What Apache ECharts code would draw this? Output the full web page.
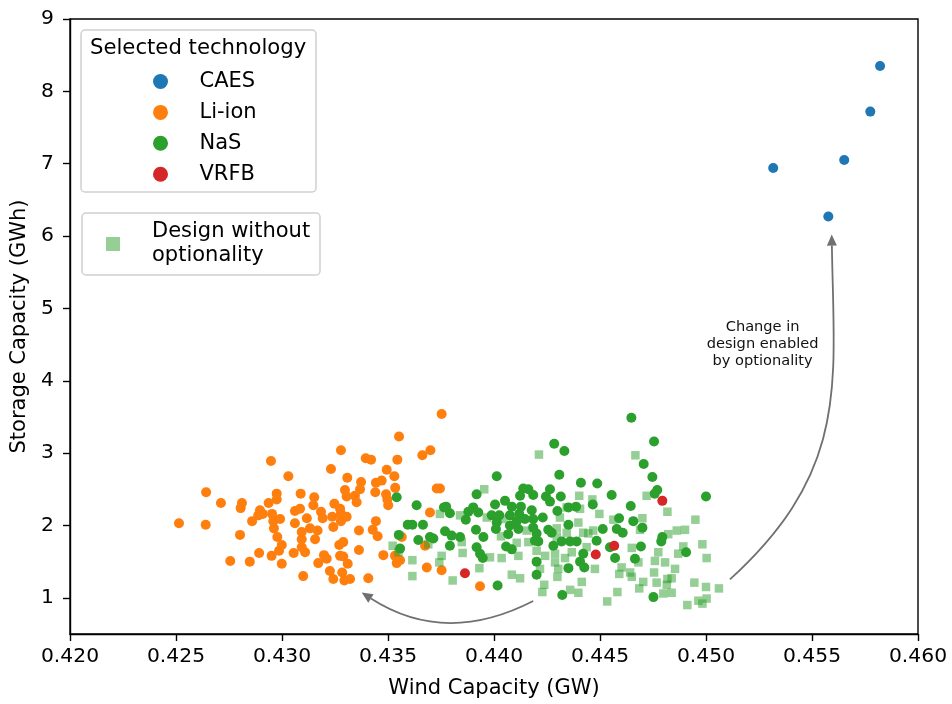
<!DOCTYPE html>
<html>
<head>
<meta charset="utf-8">
<script src="https://cdn.jsdelivr.net/npm/echarts@6/dist/echarts.min.js"></script>
<style>html,body{margin:0;padding:0;background:#fff}#c{width:952px;height:704px}</style>
</head>
<body>
<div id="c"></div>
<script>
const xTicks = [0.420,0.425,0.430,0.435,0.440,0.445,0.450,0.455,0.460];
const yTicks = [1,2,3,4,5,6,7,8,9];

const caes = [[0.45821,8.35],[0.45775,7.72],[0.45652,7.05],[0.45317,6.94],[0.45577,6.27]];

const liion = [
[0.42948,2.89],[0.43030,2.68],[0.42642,2.46],[0.42975,2.44],[0.43088,2.44],[0.42712,2.31],[0.42811,2.31],[0.42937,2.31],[0.42975,2.36],[0.42805,2.24],[0.42896,2.21],[0.43061,2.20],[0.43085,2.23],[0.42909,2.16],[0.42888,2.14],[0.42953,2.16],[0.42514,2.03],[0.42640,2.01],[0.42859,2.06],[0.42959,2.06],[0.42991,2.09],[0.43061,2.03],[0.42962,1.96],[0.42802,1.87],[0.42978,1.84],[0.43093,1.91],[0.43093,1.81],[0.42999,1.73],[0.42986,1.65],[0.43093,1.70],[0.42892,1.62],[0.43055,1.62],[0.42951,1.58],[0.42756,1.51],[0.42848,1.50],[0.42999,1.47],[0.43100,1.30],
[0.43753,3.54],[0.43552,3.23],[0.43278,3.04],[0.43662,2.97],[0.43700,3.04],[0.43395,2.93],[0.43420,2.91],[0.43544,2.91],[0.43231,2.78],[0.43494,2.77],[0.43530,2.68],[0.43308,2.66],[0.43373,2.60],[0.43443,2.59],[0.43470,2.62],[0.43534,2.52],[0.43297,2.49],[0.43368,2.50],[0.43440,2.46],[0.43491,2.43],[0.43730,2.51],[0.43745,2.51],[0.43152,2.39],[0.43305,2.40],[0.43344,2.41],[0.43352,2.32],[0.43148,2.28],[0.43247,2.30],[0.43497,2.36],[0.43501,2.28],[0.43184,2.19],[0.43274,2.23],[0.43278,2.16],[0.43305,2.12],[0.43117,2.10],[0.43192,2.10],[0.43237,2.12],[0.43278,2.06],[0.43443,2.06],[0.43698,2.18],[0.43132,1.96],[0.43168,1.93],[0.43242,1.98],[0.43363,1.93],[0.43428,1.94],[0.43451,1.85],[0.43156,1.81],[0.43565,1.84],[0.43675,1.72],[0.43270,1.73],[0.43289,1.77],[0.43109,1.63],[0.43198,1.59],[0.43211,1.54],[0.43274,1.58],[0.43289,1.57],[0.43363,1.66],[0.43478,1.59],[0.43533,1.58],[0.43557,1.52],[0.43541,1.48],[0.43171,1.48],[0.43310,1.47],[0.43683,1.42],[0.43226,1.37],[0.43284,1.35],[0.43242,1.26],[0.43294,1.24],[0.43321,1.26],[0.43407,1.27],[0.43753,1.38],[0.43934,1.16]
];

const nas = [
[0.43541,2.39],[0.43635,2.28],[0.43764,2.25],[0.43593,2.01],[0.43615,2.01],[0.43665,2.01],[0.43551,1.87],[0.43557,1.68],[0.43643,1.80],[0.43698,1.84],[0.43714,1.82],[0.43769,1.92],
[0.44284,3.13],[0.44332,3.03],[0.44013,2.68],[0.44308,2.70],[0.44410,2.59],[0.44138,2.51],[0.44162,2.50],[0.43918,2.43],[0.44123,2.41],[0.44185,2.42],[0.44264,2.50],[0.44245,2.40],[0.44315,2.40],[0.43774,2.26],[0.43792,2.17],[0.43902,2.25],[0.43879,2.19],[0.43926,2.18],[0.44005,2.29],[0.44052,2.34],[0.44084,2.26],[0.44127,2.26],[0.44264,2.33],[0.44299,2.20],[0.44351,2.25],[0.44387,2.26],[0.43989,2.14],[0.44025,2.14],[0.44075,2.14],[0.44119,2.16],[0.44178,2.21],[0.43867,2.08],[0.44013,2.04],[0.44107,2.06],[0.44146,2.09],[0.44185,2.09],[0.44230,2.11],[0.44351,2.01],[0.43800,1.86],[0.43915,1.94],[0.44009,1.95],[0.44075,2.00],[0.44115,1.95],[0.44185,1.97],[0.44256,1.94],[0.44272,1.90],[0.43840,1.84],[0.43950,1.84],[0.44067,1.88],[0.44201,1.89],[0.44193,1.79],[0.44209,1.78],[0.44319,1.78],[0.44359,1.78],[0.44390,1.78],[0.43792,1.72],[0.44057,1.71],[0.44084,1.67],[0.44280,1.72],[0.43918,1.70],[0.43934,1.61],[0.43947,1.55],[0.44201,1.50],[0.44351,1.41],[0.44406,1.50],[0.44201,1.32],[0.44017,1.17],[0.44322,1.04],
[0.44648,3.49],[0.44755,3.16],[0.44706,2.85],[0.44747,2.67],[0.44770,2.49],[0.44758,2.44],[0.45000,2.40],[0.44487,2.58],[0.44555,2.42],[0.44466,2.29],[0.44645,2.27],[0.44590,2.10],[0.44657,2.06],[0.44513,1.95],[0.44579,1.95],[0.44607,1.90],[0.44700,1.97],[0.44794,1.84],[0.44789,1.78],[0.44484,1.79],[0.44547,1.70],[0.44693,1.71],[0.44906,1.63],[0.44421,1.61],[0.44571,1.55],[0.44665,1.54],[0.44426,1.42],[0.44752,1.01]
];

const vrfb = [[0.43863,1.34],[0.44794,2.34],[0.44567,1.72],[0.44480,1.60]];

const noOptionality = [
[0.43745,2.16],[0.43522,1.72],[0.43549,1.63],[0.43615,1.52],[0.43615,1.30],[0.43753,1.58],[0.43742,1.49],[0.43690,1.74],
[0.44212,2.98],[0.43954,2.50],[0.44402,2.41],[0.43840,2.14],[0.43966,2.11],[0.44044,2.09],[0.44311,2.11],[0.44343,2.25],[0.44406,2.23],[0.44398,2.04],[0.44154,1.93],[0.44296,1.96],[0.44343,1.90],[0.44421,1.90],[0.43848,1.77],[0.44033,1.85],[0.44107,1.76],[0.44162,1.77],[0.44296,1.84],[0.43852,1.62],[0.43981,1.56],[0.44036,1.55],[0.44115,1.58],[0.44201,1.65],[0.44241,1.58],[0.44288,1.61],[0.44367,1.63],[0.43931,1.41],[0.44217,1.40],[0.44288,1.49],[0.44335,1.55],[0.44303,1.40],[0.44084,1.32],[0.44123,1.27],[0.44299,1.29],[0.43805,1.24],[0.44237,1.18],[0.44228,1.08],[0.44414,1.22],[0.44359,1.11],[0.44398,1.07],
[0.44667,2.97],[0.44720,2.41],[0.44818,2.19],[0.44950,2.08],[0.44464,2.36],[0.44497,2.16],[0.44563,2.08],[0.44700,2.10],[0.44689,1.94],[0.44445,1.89],[0.44468,1.93],[0.44862,1.93],[0.44901,1.94],[0.44822,1.88],[0.44437,1.70],[0.44650,1.69],[0.44893,1.71],[0.44983,1.74],[0.44775,1.63],[0.44869,1.61],[0.45003,1.55],[0.44476,1.40],[0.44602,1.42],[0.44681,1.49],[0.44759,1.51],[0.44807,1.49],[0.44854,1.40],[0.44591,1.33],[0.44642,1.35],[0.44650,1.29],[0.44755,1.35],[0.44818,1.26],[0.44838,1.27],[0.44704,1.22],[0.44685,1.13],[0.44767,1.21],[0.44815,1.18],[0.44945,1.21],[0.45000,1.15],[0.45061,1.13],[0.44582,1.08],[0.44534,0.95],[0.44799,1.06],[0.44838,1.07],[0.44964,0.96],[0.45003,0.99],[0.44912,0.90],[0.44983,0.92]
];

// annotation anchors (data units)
const arrowUp = [[0.45113,1.255],[0.45679,2.77],[0.45604,3.95],[0.45593,6.02]];
const arrowLeft = [[0.44185,0.956],[0.43769,0.330],[0.43376,1.072]];
const noteAt = [0.45267,4.50];
const noteText = 'Change in\ndesign enabled\nby optionality';

const FONT = 'DejaVu Sans';
const C = {caes:'#1f77b4', li:'#ff7f0e', nas:'#2ca02c', vrfb:'#d62728'};

const chart = echarts.init(document.getElementById('c'), null, {renderer:'canvas'});

const axisCommon = {
  type:'value',
  axisLine:{show:true, onZero:false, lineStyle:{color:'#000', width:1.4}},
  axisTick:{show:true, inside:false, length:7, lineStyle:{color:'#000', width:1.4}},
  splitLine:{show:false},
  nameTextStyle:{fontFamily:FONT, fontSize:21, color:'#000'}
};

const option = {
  animation:false,
  backgroundColor:'#fff',
  grid:{left:70, right:34, top:19, bottom:69, show:true, borderColor:'#000', borderWidth:1.4, backgroundColor:'transparent'},
  xAxis: Object.assign({}, axisCommon, {
    min:0.42, max:0.46,
    name:'Wind Capacity (GW)', nameLocation:'middle', nameGap:44,
    axisTick:Object.assign({}, axisCommon.axisTick, {customValues:xTicks}),
    axisLabel:{customValues:xTicks, fontFamily:FONT, fontSize:20.3, color:'#000', margin:13, formatter:v=>v.toFixed(3)}
  }),
  yAxis: Object.assign({}, axisCommon, {
    min:0.5, max:9,
    name:'Storage Capacity (GWh)', nameLocation:'middle', nameGap:36,
    axisTick:Object.assign({}, axisCommon.axisTick, {customValues:yTicks}),
    axisLabel:{customValues:yTicks, fontFamily:FONT, fontSize:20.3, color:'#000', margin:16, formatter:v=>String(v)}
  }),
  legend:[
    {
      orient:'vertical', left:148, top:66, itemWidth:68, itemHeight:15, itemGap:9.9,
      selectedMode:false,
      textStyle:{fontFamily:FONT, fontSize:21, color:'#000', lineHeight:20},
      data:[{name:'CAES',icon:'circle'},{name:'Li-ion',icon:'circle'},{name:'NaS',icon:'circle'},{name:'VRFB',icon:'circle'}]
    },
    {
      orient:'vertical', left:101, top:215, itemWidth:14, itemHeight:14,
      selectedMode:false,
      textStyle:{fontFamily:FONT, fontSize:21, color:'#000', lineHeight:24, padding:[0,0,0,27]},
      formatter:()=>'Design without\noptionality',
      data:[{name:'Design without optionality', icon:'rect', itemStyle:{color:'#2ca02c', opacity:0.5}}]
    }
  ],
  series:[
    {name:'CAES', type:'scatter', data:caes, symbol:'circle', symbolSize:10, itemStyle:{color:C.caes, opacity:1}},
    {name:'Li-ion', type:'scatter', data:liion, symbol:'circle', symbolSize:10, itemStyle:{color:C.li, opacity:1}},
    {name:'NaS', type:'scatter', data:nas, symbol:'circle', symbolSize:10, itemStyle:{color:C.nas, opacity:1}},
    {name:'VRFB', type:'scatter', data:vrfb, symbol:'circle', symbolSize:10, itemStyle:{color:C.vrfb, opacity:1}},
    {name:'Design without optionality', type:'scatter', data:noOptionality, symbol:'rect', symbolSize:8.5, itemStyle:{color:C.nas, opacity:0.5}}
  ]
};
chart.setOption(option);

function px(p){ return chart.convertToPixel({gridIndex:0}, p); }
function head(tip, from, len, half){
  const dx = tip[0]-from[0], dy = tip[1]-from[1];
  const d = Math.hypot(dx,dy), ux = dx/d, uy = dy/d;
  const bx = tip[0]-ux*len, by = tip[1]-uy*len;
  return {pts:[tip,[bx-uy*half, by+ux*half],[bx+uy*half, by-ux*half]], base:[bx,by]};
}
const ARROW = '#707070';
const a = arrowUp.map(px);
const ha = head(a[3], a[2], 11, 5);
const b = arrowLeft.map(px);
const hb = head(b[2], b[1], 11, 5);
const n = px(noteAt);

chart.setOption({
  graphic:[
    {type:'rect', z:1, shape:{x:81, y:30, width:235, height:162, r:4}, style:{fill:'rgba(255,255,255,0.8)', stroke:'#d0d0d0', lineWidth:1.5}},
    {type:'rect', z:1, shape:{x:82, y:213, width:238, height:62, r:4}, style:{fill:'rgba(255,255,255,0.8)', stroke:'#d0d0d0', lineWidth:1.5}},
    {type:'text', z:10, x:90, y:48, style:{text:'Selected technology', fontFamily:FONT, fontSize:21.2, fill:'#000', verticalAlign:'middle', align:'left'}},
    {type:'bezierCurve', z:10, shape:{x1:a[0][0], y1:a[0][1], cpx1:a[1][0], cpy1:a[1][1], cpx2:a[2][0], cpy2:a[2][1], x2:ha.base[0], y2:ha.base[1]}, style:{stroke:ARROW, lineWidth:1.8, fill:'none'}},
    {type:'polygon', z:10, shape:{points:ha.pts}, style:{fill:ARROW}},
    {type:'bezierCurve', z:10, shape:{x1:b[0][0], y1:b[0][1], cpx1:b[1][0], cpy1:b[1][1], x2:hb.base[0], y2:hb.base[1]}, style:{stroke:ARROW, lineWidth:1.8, fill:'none'}},
    {type:'polygon', z:10, shape:{points:hb.pts}, style:{fill:ARROW}},
    {type:'text', z:10, x:n[0], y:n[1], style:{text:noteText, fontFamily:FONT, fontSize:14.6, lineHeight:17, fill:'#111', align:'center', verticalAlign:'middle'}}
  ]
});
</script>
</body>
</html>
